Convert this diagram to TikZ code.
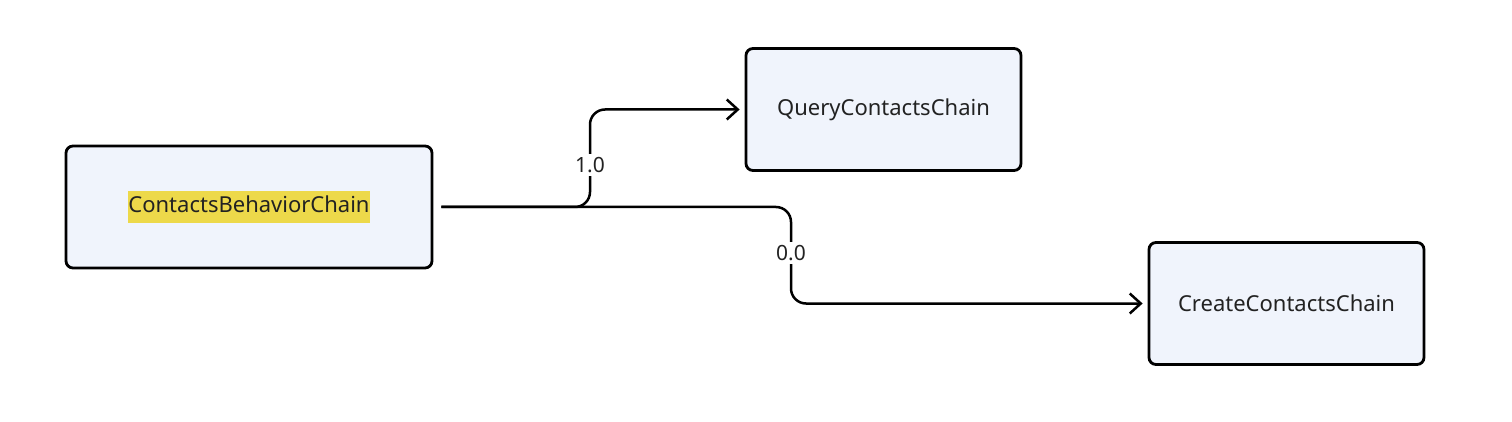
\documentclass[tikz,border=0pt]{standalone}
\usepackage{fontspec}
\setmainfont{Noto Sans}
\usetikzlibrary{arrows.meta}
\definecolor{boxfill}{HTML}{F0F4FC}
\definecolor{hl}{HTML}{EDD94A}
\definecolor{txt}{HTML}{222222}
\tikzset{
  chainbox/.style={draw=black, line width=2.8pt, fill=boxfill, rounded corners=7pt,
    minimum width=#1, minimum height=122pt, inner sep=0pt, text=txt,
    font=\fontsize{22pt}{26pt}\selectfont},
  edge/.style={line width=2.5pt, rounded corners=15pt, -{Straight Barb[length=11pt,width=20pt,line width=2.5pt]}},
  elabel/.style={fill=white, inner sep=3pt, text=txt, font=\fontsize{21pt}{24pt}\selectfont}
}
\begin{document}
\begin{tikzpicture}[x=1pt,y=-1pt]
\useasboundingbox (0,0) rectangle (1512,422);
\node[chainbox=366pt] (A) at (249,207) {\colorbox{hl}{\strut\hspace{-3pt}ContactsBehaviorChain\hspace{-3pt}}};
\node[chainbox=275pt] (Q) at (883.5,109.5) {QueryContactsChain};
\node[chainbox=275pt] (C) at (1286.5,303.5) {CreateContactsChain};
\coordinate (s) at ([xshift=8pt]A.east);
\coordinate (b1) at (590,207);
\coordinate (b2) at (791,207);
\draw[edge] (s) -| (b1 |- Q.west) -- ([xshift=-5pt]Q.west);
\draw[edge] (s) -| (b2 |- C.west) -- ([xshift=-5pt]C.west);
\node[elabel] (l1) at (590,165) {1.0};
\node[elabel] (l2) at (791,253) {0.0};
\end{tikzpicture}
\end{document}
